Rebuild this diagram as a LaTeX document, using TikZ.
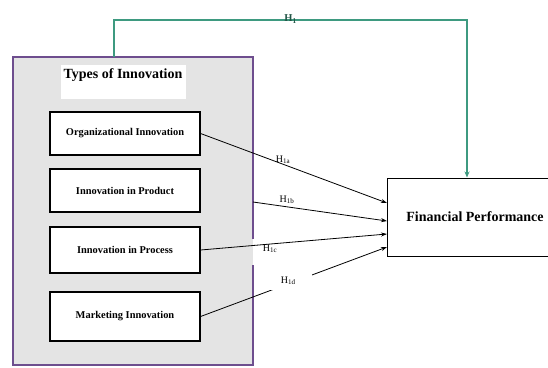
\documentclass[tikz,border=0pt]{standalone}
\usepackage{fontspec}
\setmainfont{Liberation Serif}
\usetikzlibrary{arrows.meta}
\definecolor{panelPurple}{HTML}{6E4E8E}
\definecolor{linkGreen}{HTML}{3E9A80}
\definecolor{panelGray}{HTML}{E4E4E4}

\begin{document}
\begin{tikzpicture}[
        x=1pt, y=-1pt,
        typeNode/.style={rectangle, draw, line width=1.2pt, fill=white, minimum width=150pt, inner sep=0pt, font=\bfseries\fontsize{10.4}{12}\selectfont},
        perfNode/.style={rectangle, draw, line width=1pt, fill=white, minimum width=176pt, minimum height=78pt, inner sep=0pt, font=\bfseries\fontsize{14}{16}\selectfont},
        hypLabel/.style={font=\fontsize{10}{11}\selectfont, inner sep=1pt},
        hypArrow/.style={-{Stealth[length=6pt, width=4pt]}, line width=0.8pt}
    ]
        \useasboundingbox (0,0) rectangle (548,367);

        % Panel of innovation types
        \fill[panelGray] (13,57) rectangle (253,365);
        \draw[panelPurple, line width=1.5pt] (253,239) -- (253,57) -- (13,57) -- (13,365) -- (253,365) -- (253,265);
        \node[fill=white, anchor=north, minimum width=125pt, text height=10pt, text depth=18pt, inner sep=3pt,
              font=\bfseries\fontsize{14}{16}\selectfont] (title) at (123,65) {Types of Innovation};

        % Type boxes
        \node[typeNode, minimum height=43pt] (org) at (125,133.5) {Organizational Innovation};
        \node[typeNode, minimum height=43pt] (prod) at (125,190.5) {Innovation in Product};
        \node[typeNode, minimum height=46pt] (proc) at (125,250) {Innovation in Process};
        \node[typeNode, minimum height=49pt] (mkt) at (125,316.5) {Marketing Innovation};

        % Outcome
        \node[perfNode] (fp) at (475,217) {Financial Performance};

        % Arrow ends
        \coordinate (bStart) at (253,202);
        \coordinate (fpA) at (387,203);
        \coordinate (fpB) at (387,221);
        \coordinate (fpC) at (387,234);
        \coordinate (fpD) at (387,247);
        \coordinate (gStart) at (114,57);
        \coordinate (gTop) at (114,20);
        \coordinate (gCorner) at (467,20);

        % Edges
        \draw[linkGreen, line width=1.5pt, -{Stealth[length=6pt, width=5pt]}] (gStart) -- (gTop)
            -- node[text=linkGreen!55!black, font=\bfseries\fontsize{10.5}{12}\selectfont, inner sep=1pt, yshift=1pt] {H\textsubscript{1}} (gCorner) -- (gCorner |- fp.north);
        \draw[hypArrow] (org.east) -- (fpA);
        \draw[hypArrow] (bStart) -- (fpB);
        \draw[hypArrow] (proc.east) -- (fpC);
        \draw[hypArrow] (mkt.east) -- node[pos=0.47, yshift=3pt, fill=white, minimum width=48pt, minimum height=18pt, hypLabel] (hD) {H\textsubscript{1d}} (fpD);

        % Hypothesis labels
        \node[hypLabel] (hA) at (283,160) {H\textsubscript{1a}};
        \node[hypLabel] (hB) at (287,200) {H\textsubscript{1b}};
        \node[hypLabel] (hC) at (270,249) {H\textsubscript{1c}};
    \end{tikzpicture}
\end{document}
